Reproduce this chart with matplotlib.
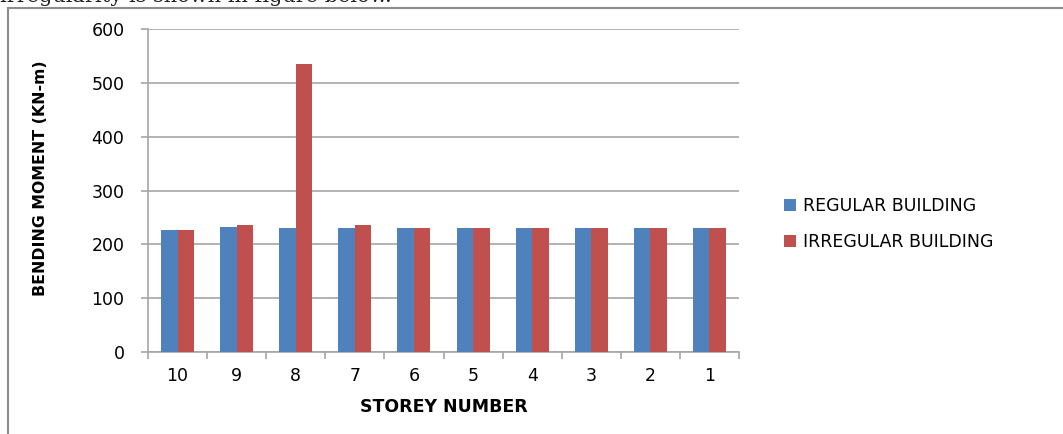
import numpy as np
import matplotlib
matplotlib.use('Agg')
import matplotlib.pyplot as plt
from matplotlib.lines import Line2D

# data
storeys = ['10', '9', '8', '7', '6', '5', '4', '3', '2', '1']
regular = [226, 233, 231, 231, 231, 231, 231, 230, 230, 230]
irregular = [226, 236, 535, 235, 231, 231, 231, 231, 231, 230]

blue = '#4f81bd'
red = '#c0504d'
grid_col = '#a6a6a6'

fig = plt.figure(figsize=(10.63, 4.34), dpi=100)

# page frame and cut-off sentence above the chart
fig.add_artist(Line2D([8 / 1063, 8 / 1063], [0, 1 - 8 / 434], color='#8c8c8c', lw=1.5))
fig.add_artist(Line2D([8 / 1063, 1], [1 - 8 / 434, 1 - 8 / 434], color='#8c8c8c', lw=1.5))
fig.text(0.0, 1 - 2 / 434, 'irregularity is shown in figure below.', family='DejaVu Serif',
         fontsize=15, va='baseline', ha='left', color='#222222')

ax = fig.add_axes([148 / 1063, 82 / 434, 591 / 1063, 323 / 434])

x = np.arange(len(storeys))
w = 0.28
ax.bar(x - w / 2, regular, w, color=blue, label='REGULAR BUILDING', zorder=3)
ax.bar(x + w / 2, irregular, w, color=red, label='IRREGULAR BUILDING', zorder=3)

ax.set_xlim(-0.5, len(storeys) - 0.5)
ax.set_ylim(0, 600)
ax.set_yticks(range(0, 601, 100))
ax.yaxis.grid(True, color=grid_col, lw=1.2, zorder=0)

ax.set_xticks(x)
ax.set_xticklabels(storeys, fontsize=12.5)
ax.set_xticks(np.arange(-0.5, len(storeys)), minor=True)
ax.tick_params(axis='x', which='major', length=0, pad=11)
ax.tick_params(axis='x', which='minor', length=5, color=grid_col, width=1.2)
ax.tick_params(axis='y', length=5, color=grid_col, width=1.2, labelsize=12.5, pad=12)

for s in ['top', 'right']:
    ax.spines[s].set_visible(False)
for s in ['left', 'bottom']:
    ax.spines[s].set_color(grid_col)
    ax.spines[s].set_linewidth(1.2)

ax.set_xlabel('STOREY NUMBER', fontsize=12.5, fontweight='bold', labelpad=9)
ax.set_ylabel('BENDING MOMENT (KN-m)', fontsize=11.3, fontweight='bold')
ax.yaxis.set_label_coords(-0.169, 0.539)

leg = ax.legend(loc='center left', bbox_to_anchor=(1.05, 0.396), frameon=False,
                fontsize=12.5, handlelength=0.7, handleheight=0.7, handletextpad=0.4,
                labelspacing=1.0)

fig.savefig('out.png', dpi=100)
